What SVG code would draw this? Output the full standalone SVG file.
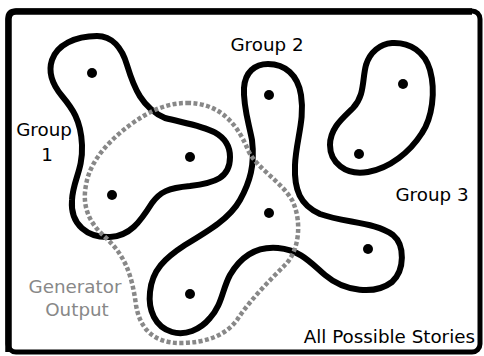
<svg xmlns="http://www.w3.org/2000/svg" width="484" height="356" viewBox="0 0 484 356">
<style>
.blob{fill:none;stroke:#000;stroke-width:6;stroke-linejoin:round}
.gen{fill:none;stroke:#888;stroke-width:4.5;stroke-dasharray:4 2.4}
.dot{fill:#000}
.lbl{font-family:"DejaVu Sans",Verdana,sans-serif;font-size:18.3px;fill:#000}
.glbl{font-family:"DejaVu Sans",Verdana,sans-serif;font-size:18.3px;fill:#888}
</style>
<rect width="484" height="356" fill="#fff"/>
<g id="frame">
<rect x="8" y="11" width="472" height="341" rx="8" fill="none" stroke="#000" stroke-width="5"/>
<path d="M8.5,352 V19 Q8.5,11.5 16,11.5 H472" fill="none" stroke="#000" stroke-width="6.5"/>
<text class="lbl" x="475" y="343" text-anchor="end">All Possible Stories</text>
</g>
<g id="group1">
<path class="blob" d="M97,36 C112,36 122,48 127,65 C134,88 142,108 165,118 C195,126 230,128 230,157 C230,178 215,183 190,186 C168,188 160,192 152,203 C140,222 130,236 110,237 C88,238 70,225 72,200 C73,180 83,170 82,145 C81,120 72,108 62,96 C52,84 48,72 52,60 C57,45 75,36 97,36 Z"/>
<circle class="dot" cx="92" cy="73" r="5"/>
<circle class="dot" cx="190" cy="157" r="5"/>
<circle class="dot" cx="112" cy="195" r="5"/>
<text class="lbl" x="44" y="136" text-anchor="middle">Group</text>
<text class="lbl" x="47" y="161" text-anchor="middle">1</text>
</g>
<g id="group2">
<path class="blob" d="M268,64 C285,64 298,75 301,95 C305,120 296,140 295,165 C294,190 300,205 320,214 C345,223 375,222 393,235 C405,245 405,270 392,282 C375,295 345,292 325,275 C310,262 300,250 278,248 C255,246 240,258 230,275 C222,290 222,305 210,318 C200,330 185,336 172,332 C155,327 148,310 150,292 C152,270 165,258 185,245 C210,230 230,218 240,200 C250,182 255,165 252,140 C248,120 243,105 244,88 C245,72 255,64 268,64 Z"/>
<circle class="dot" cx="269" cy="95" r="5"/>
<circle class="dot" cx="269" cy="213" r="5"/>
<circle class="dot" cx="190" cy="294" r="5"/>
<circle class="dot" cx="368" cy="249" r="5"/>
<text class="lbl" x="267" y="51" text-anchor="middle">Group 2</text>
</g>
<g id="group3">
<path class="blob" d="M392,43 C410,42 425,52 430,70 C436,92 432,118 422,133 C410,152 390,168 368,172 C345,176 330,162 330,145 C330,128 343,118 353,108 C365,95 362,80 366,65 C370,52 380,44 392,43 Z"/>
<circle class="dot" cx="403" cy="84" r="5"/>
<circle class="dot" cx="359" cy="154" r="5"/>
<text class="lbl" x="432" y="201" text-anchor="middle">Group 3</text>
</g>
<g id="generator-output">
<path class="gen" d="M187,103 C215,103 235,118 248,150 C256,168 280,180 292,200 C302,220 300,250 285,265 C270,280 250,300 237,320 C225,336 205,343 180,343 C155,343 140,330 136,305 C132,275 125,255 105,237 C88,222 82,205 86,185 C90,160 110,140 130,125 C148,112 165,103 187,103 Z"/>
<text class="glbl" x="75" y="293" text-anchor="middle">Generator</text>
<text class="glbl" x="77" y="316" text-anchor="middle">Output</text>
</g>
</svg>
